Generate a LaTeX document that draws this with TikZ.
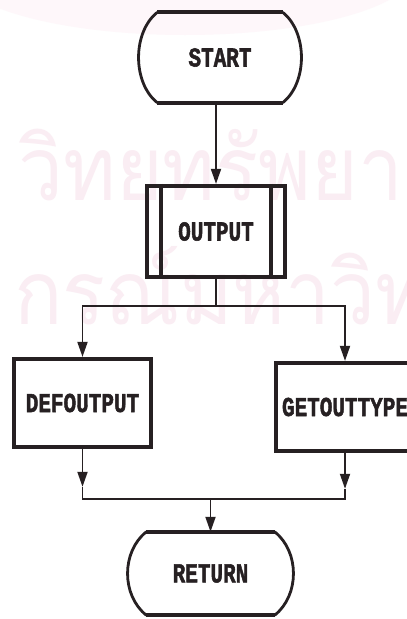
\documentclass[tikz,border=0pt]{standalone}
\usepackage{fontspec}
\usetikzlibrary{calc,arrows.meta}
\newfontfamily\chartfont[FakeBold=2]{Liberation Mono Bold}
\newfontfamily\thaifont[Script=Thai]{Loma}
\definecolor{ink}{RGB}{38,32,34}
\definecolor{stamp}{RGB}{250,237,243}
\definecolor{haze}{RGB}{254,247,250}
\newcommand{\chartlabel}[1]{\scalebox{1}[1.3]{#1}}
\newcommand{\stamptext}[1]{\scalebox{0.9}[1]{#1}}

\begin{document}
\begin{tikzpicture}[x=1pt,y=-1pt,
  label/.style={font=\chartfont\fontsize{21}{21}\selectfont, text=ink, inner sep=0pt},
  boxnode/.style={draw=ink, line width=4.2pt, rectangle, inner sep=0pt,
                  label, minimum width=#1, minimum height=88pt},
  termnode/.style={rectangle, inner sep=0pt, label},
  rim/.style={draw=ink, line width=4.2pt},
  side/.style={draw=ink, line width=2.8pt},
  conn/.style={draw=ink, line width=1.8pt},
  tip/.style={-{Triangle[length=15pt,width=10pt]}},
  watermark/.style={text=stamp, inner sep=0pt, anchor=base west,
                    font=\thaifont\fontsize{89}{89}\selectfont}]

\useasboundingbox (0,0) rectangle (407,619);
\clip (0,0) rectangle (407,619);
\fill[white] (0,0) rectangle (407,619);

% faint stamp in the background
\fill[haze] (185,-30) ellipse [x radius=230, y radius=65];
\node[watermark] (wm1) at (18,200) {\stamptext{วิทยทรัพยา}};
\node[watermark] (wm2) at (14,324) {\stamptext{กรณ์มหาวิท}};

% terminals
\node[termnode, minimum width=163pt, minimum height=90pt] (start) at (220,57.5) {\chartlabel{START}};
\node[termnode, minimum width=166pt, minimum height=83pt] (ret) at (210.5,573.5) {\chartlabel{RETURN}};

\foreach \t in {start,ret}{
  \draw[rim] ($(\t.north west)+(19,0)$) -- ($(\t.north east)+(-19,0)$);
  \draw[rim] ($(\t.south west)+(19,0)$) -- ($(\t.south east)+(-19,0)$);
  \draw[side] ($(\t.north west)+(19,0)$) .. controls ($(\t.north west)+(-6,20)$) and ($(\t.south west)+(-6,-20)$) .. ($(\t.south west)+(19,0)$);
  \draw[side] ($(\t.north east)+(-19,0)$) .. controls ($(\t.north east)+(6,20)$) and ($(\t.south east)+(6,-20)$) .. ($(\t.south east)+(-19,0)$);
}

% process boxes
\node[boxnode=138pt, minimum height=91pt] (out) at (216,231.5) {\chartlabel{OUTPUT}};
\draw[ink, line width=3.8pt] ($(out.north west)+(16,0)$) -- ($(out.south west)+(16,0)$);
\draw[ink, line width=3.8pt] ($(out.north east)+(-16,0)$) -- ($(out.south east)+(-16,0)$);

\node[boxnode=137pt] (def) at (82.5,403) {\chartlabel{DEFOUTPUT}};
\node[boxnode=138pt] (get) at (345,407) {\chartlabel{GETOUTTYPE}};

% connectors
\draw[conn, tip] (out.north |- start.south) -- (out.north);

\coordinate (split) at ($(out.south)+(0,27)$);
\draw[conn] (out.south) -- (split);
\draw[conn, tip] (split) -| (def.north);
\draw[conn, tip] (split) -| (get.north);

\coordinate (merge) at ($(ret.north)+(0,-33)$);
\coordinate (lfoot) at (def.south |- merge);
\coordinate (rfoot) at (get.south |- merge);
\coordinate (ltip) at ($(lfoot)+(0,-12)$);
\coordinate (rtip) at ($(rfoot)+(0,-10)$);
\draw[conn, tip] (def.south) -- (ltip);
\draw[conn, tip] (get.south) -- (rtip);
\draw[conn] (ltip) -- (lfoot) -- (rfoot) -- (rtip);
\draw[conn, tip] (merge) -- (ret.north);

\end{tikzpicture}
\end{document}
